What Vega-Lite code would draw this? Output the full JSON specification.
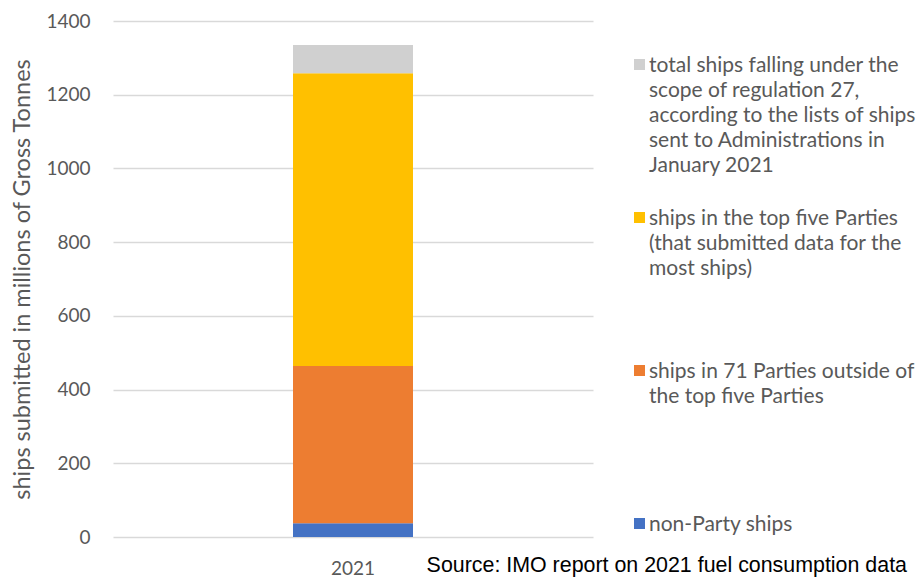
{
  "$schema": "https://vega.github.io/schema/vega-lite/v6.json",
  "width": 480,
  "height": 516,
  "autosize": {"type": "none"},
  "padding": {"left": 113, "top": 21, "right": 323, "bottom": 43},
  "background": "white",
  "config": {"view": {"stroke": null}},
  "title": {
    "text": "Source: IMO report on 2021 fuel consumption data",
    "orient": "bottom",
    "anchor": "end",
    "frame": "group",
    "font": "Liberation Sans",
    "fontSize": 21.4,
    "fontWeight": "normal",
    "color": "#000000",
    "dx": 314,
    "offset": -23
  },
  "data": {
    "values": [
      {"year": "2021", "segment": "non-Party ships", "value": 37, "order": 1},
      {"year": "2021", "segment": "ships in 71 Parties outside of|the top five Parties", "value": 427, "order": 2},
      {"year": "2021", "segment": "ships in the top five Parties|(that submitted data for the|most ships)", "value": 794, "order": 3},
      {"year": "2021", "segment": "total ships falling under the|scope of regulation 27,|according to the lists of ships|sent to Administrations in|January 2021", "value": 77, "order": 4}
    ]
  },
  "mark": {"type": "bar", "size": 120},
  "encoding": {
    "x": {
      "field": "year",
      "type": "nominal",
      "axis": {
        "title": null,
        "labelAngle": 0,
        "domain": false,
        "ticks": false,
        "labelPadding": 22,
        "labelFont": "Lato",
        "labelFontSize": 19,
        "labelColor": "#595959"
      }
    },
    "y": {
      "field": "value",
      "type": "quantitative",
      "stack": "zero",
      "scale": {"domain": [0, 1400], "nice": false},
      "axis": {
        "title": "ships submitted in millions of Gross Tonnes",
        "values": [0, 200, 400, 600, 800, 1000, 1200, 1400],
        "format": "d",
        "domain": false,
        "ticks": false,
        "grid": true,
        "gridColor": "#d9d9d9",
        "gridWidth": 1.3,
        "labelPadding": 23,
        "labelFont": "Lato",
        "labelFontSize": 19,
        "labelColor": "#595959",
        "titleFont": "Lato",
        "titleFontSize": 23.5,
        "titleFontWeight": "normal",
        "titleColor": "#595959",
        "titlePadding": 11
      }
    },
    "color": {
      "field": "segment",
      "type": "nominal",
      "scale": {
        "domain": [
          "total ships falling under the|scope of regulation 27,|according to the lists of ships|sent to Administrations in|January 2021",
          "ships in the top five Parties|(that submitted data for the|most ships)",
          "ships in 71 Parties outside of|the top five Parties",
          "non-Party ships"
        ],
        "range": ["#d0d0d0", "#ffc000", "#ed7d31", "#4472c4"]
      },
      "legend": {
        "title": null,
        "orient": "none",
        "legendX": 516,
        "legendY": 33,
        "padding": 0,
        "symbolType": "square",
        "symbolSize": 121,
        "symbolStrokeWidth": 0,
        "symbolOpacity": 1,
        "labelFont": "Lato",
        "labelFontSize": 21,
        "labelColor": "#595959",
        "labelLimit": 400,
        "labelOffset": -1,
        "labelBaseline": "alphabetic",
        "rowPadding": 6,
        "labelExpr": "datum.label == 'non-Party ships' ? datum.label : slice(split(datum.label + '|||||', '|'), 0, 6)",
        "encode": {
          "labels": {"update": {"dy": {"value": 7}, "lineHeight": {"value": 25}}}
        }
      }
    },
    "order": {"field": "order", "type": "quantitative"}
  }
}
